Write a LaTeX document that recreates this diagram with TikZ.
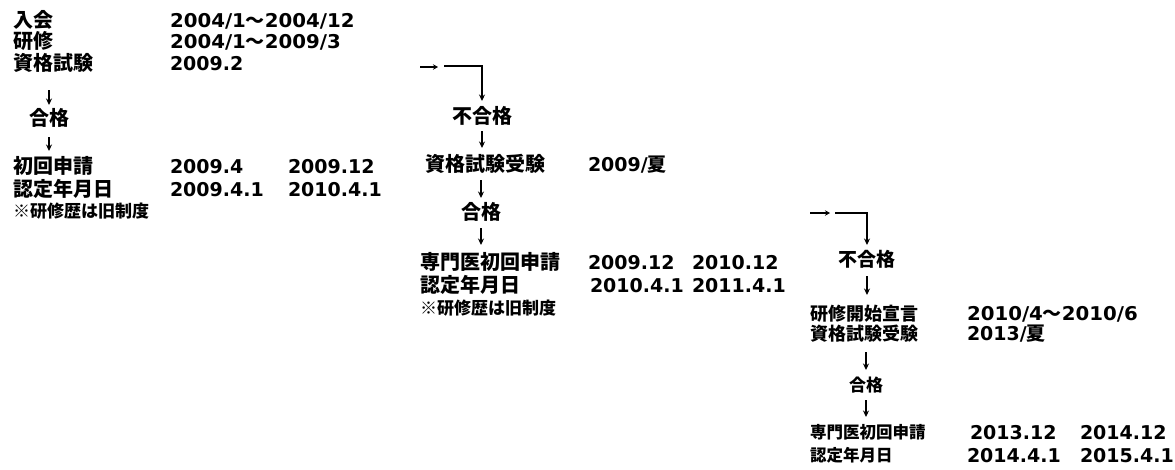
\documentclass[tikz,border=0pt]{standalone}
\usepackage{fontspec}
\usepackage{graphicx}
\usetikzlibrary{arrows.meta}
\newfontfamily\jpf{Noto Sans CJK JP}
\newfontfamily\dvf{DejaVu Sans}
\newfontfamily\dvw{DejaVu Sans}[FakeStretch=1.04]
\newcommand\wavejp{{\jpf\bfseries ～}}
\newcommand\natsujp{{\jpf\bfseries 夏}}
\tikzset{
  every node/.style={inner sep=0pt, outer sep=0pt, anchor=base west},
  jpA/.style={font=\jpf\bfseries\fontsize{20}{20}\selectfont, text height=17.6pt, text depth=2.4pt},
  jpB/.style={font=\jpf\bfseries\fontsize{19}{19}\selectfont, text height=16.7pt, text depth=2.3pt},
  jpC/.style={font=\jpf\bfseries\fontsize{18}{18}\selectfont, text height=15.8pt, text depth=2.2pt},
  jpD/.style={font=\jpf\bfseries\fontsize{17}{17}\selectfont, text height=15pt, text depth=2pt},
  jpE/.style={font=\jpf\bfseries\fontsize{16.5}{16.5}\selectfont, text height=14.5pt, text depth=2pt},
  note/.style={font=\jpf\bfseries\fontsize{17}{17}\selectfont},
  dt/.style={font=\dvf\bfseries\fontsize{19}{19}\selectfont},
  dtw/.style={font=\dvw\bfseries\fontsize{19}{19}\selectfont},
  mid/.style={anchor=base},
  arr/.style 2 args={line width=1.5pt, -{Stealth[length=6.5pt,width=6pt]}, shorten <=#1, shorten >=#2},
  elbow/.style={line width=1.5pt, -{Stealth[length=6.5pt,width=6pt]}, shorten >=#1},
  smallarr/.style={line width=2pt, -{Stealth[length=5pt,width=5.5pt]}},
}
\begin{document}
\begin{tikzpicture}[x=1pt,y=-1pt]
\useasboundingbox[fill=white] (0,0) rectangle (1175,469);

% ---------- column 1 ----------
\node[jpA] (nyukai) at (13,27) {入会};
\node[dtw] (nyukaiD) at (170,27) {2004/1\wavejp 2004/12};
\node[jpA] (kenshu1) at (13,48) {研修};
\node[dtw] (kenshu1D) at (170,48) {2004/1\wavejp 2009/3};
\node[jpA] (shiken1) at (13,70) {資格試験};
\node[dt] (shiken1D) at (170,70) {2009.2};
\node[jpA,mid] (gokaku1) at (49,125) {合格};
\node[jpA] (shokai1) at (13,173) {初回申請};
\node[dt] (shokai1a) at (170,173) {2009.4};
\node[dt] (shokai1b) at (288,173) {2009.12};
\node[jpA] (nintei1) at (13,196) {認定年月日};
\node[dt] (nintei1a) at (170,196) {2009.4.1};
\node[dt] (nintei1b) at (288,196) {2010.4.1};
\node[note] (note1) at (13,217) {※研修歴は旧制度};
\draw[arr={17.6pt}{2.4pt}] (shiken1.south -| gokaku1) -- (gokaku1.north);
\draw[arr={9.6pt}{4.4pt}] (gokaku1.south) -- (gokaku1.south |- shokai1.north);

% ---------- column 2 ----------
\coordinate (s2a) at (420,67);
\coordinate (s2b) at (438,67);
\coordinate (e2a) at (444,66);
\node[jpA,mid] (fugokaku2) at (482,123.6) {不合格};
\node[jpA] (juken2) at (425,171) {資格試験受験};
\node[dt] (juken2D) at (588,171) {2009/\natsujp};
\node[jpA,mid] (gokaku2) at (481,219.6) {合格};
\node[jpA] (senmon2) at (420,269.6) {専門医初回申請};
\node[dt] (senmon2a) at (588,269.6) {2009.12};
\node[dt] (senmon2b) at (692,269.6) {2010.12};
\node[jpA] (nintei2) at (420,292.6) {認定年月日};
\node[dt] (nintei2a) at (590,292.6) {2010.4.1};
\node[dt] (nintei2b) at (692,292.6) {2011.4.1};
\node[note] (note2) at (420,314.5) {※研修歴は旧制度};
\draw[smallarr] (s2a) -- (s2b);
\draw[elbow=5pt] (e2a) -- (e2a -| fugokaku2) -- (fugokaku2.north);
\draw[arr={5pt}{5.4pt}] (fugokaku2.south) -- (fugokaku2.south |- juken2.north);
\draw[arr={6.6pt}{4pt}] (juken2.south -| gokaku2) -- (gokaku2.north);
\draw[arr={6pt}{7pt}] (gokaku2.south) -- (gokaku2.south |- senmon2.north);

% ---------- column 3 ----------
\coordinate (s3a) at (810,213);
\coordinate (s3b) at (830,213);
\coordinate (e3a) at (835,213);
\node[jpB,mid] (fugokaku3) at (867,266) {不合格};
\node[jpC] (kaishi3) at (810,320) {研修開始宣言};
\node[dtw] (kaishi3D) at (967,320) {2010/4\wavejp 2010/6};
\node[jpC] (juken3) at (810,340) {資格試験受験};
\node[dt] (juken3D) at (967,340) {2013/\natsujp};
\node[jpD,mid] (gokaku3) at (866,391.5) {合格};
\node[jpE] (senmon3) at (810,438) {専門医初回申請};
\node[dt] (senmon3a) at (970,439) {2013.12};
\node[dt] (senmon3b) at (1080,439) {2014.12};
\node[jpE] (nintei3) at (810,461) {認定年月日};
\node[dt] (nintei3a) at (967,462) {2014.4.1};
\node[dt] (nintei3b) at (1080,462) {2015.4.1};
\draw[smallarr] (s3a) -- (s3b);
\draw[elbow=4.3pt] (e3a) -- (e3a -| fugokaku3) -- (fugokaku3.north);
\draw[arr={7.7pt}{9.2pt}] (fugokaku3.south) -- (fugokaku3.south |- kaishi3.north);
\draw[arr={9.8pt}{6.5pt}] (juken3.south -| gokaku3) -- (gokaku3.north);
\draw[arr={6.5pt}{6.5pt}] (gokaku3.south) -- (gokaku3.south |- senmon3.north);
\end{tikzpicture}
\end{document}
